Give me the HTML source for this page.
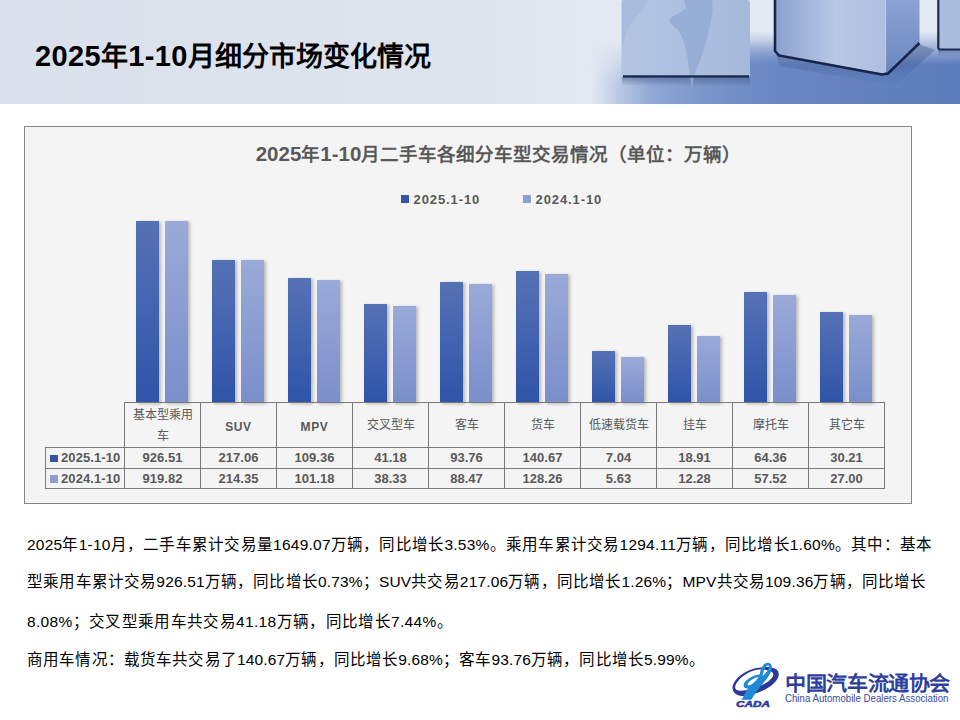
<!DOCTYPE html>
<html lang="zh-CN"><head><meta charset="utf-8">
<style>
*{margin:0;padding:0;box-sizing:border-box}
html,body{width:960px;height:720px;overflow:hidden;background:#fff;font-family:"Liberation Sans",sans-serif}
#hdr{position:absolute;left:0;top:0;width:960px;height:104px;overflow:hidden;
 background:linear-gradient(90deg,#dbe2ec 0px,#dfe5ee 400px,#e6ebf2 520px,#d6dfec 620px,#b9c9e2 960px)}
#htitle{position:absolute;left:35px;top:37.5px;font-size:27px;font-weight:bold;color:#000;white-space:nowrap;line-height:36px}
#chart{position:absolute;left:24px;top:126px;width:888px;height:378px;background:#f4f4f4;border:1px solid #858585}
#ctitle .n{font-size:20.5px;letter-spacing:0px}
#htitle .n{font-size:29px;letter-spacing:0.4px}
#ctitle{position:absolute;left:6px;top:140px;width:985px;text-align:center;font-size:18.5px;font-weight:bold;color:#595959;white-space:nowrap;line-height:28px}
.leg{position:absolute;top:191px;font-size:13px;font-weight:bold;color:#595959;line-height:18px;white-space:nowrap;letter-spacing:0.9px}
.leg .sq{vertical-align:1.5px}
td .sq{margin-right:3.5px}
.sq{display:inline-block;width:7.5px;height:7.5px;margin-right:5px;vertical-align:0px}
.bar{position:absolute;width:23px;box-shadow:2px 1px 3px rgba(0,0,0,0.25)}
.bar.d{background:linear-gradient(180deg,#5672b6,#2e54a8)}
.bar.l{background:linear-gradient(180deg,#9aaad9,#7a8eca)}
table{position:absolute;left:45px;top:402px;border-collapse:collapse;table-layout:fixed}
td{border:1px solid #7a7a7a;text-align:center;color:#595959;font-size:13px;font-weight:bold;width:76px;line-height:18px;padding:0}
td.h{height:45px;font-size:12px;font-weight:500;line-height:21px;padding-top:1.5px}
td.hb{font-weight:bold}
.lat{position:relative;top:2px;font-weight:bold;letter-spacing:0.6px}
td.e{border:none;width:79px}
td.lab{width:79px;text-align:left;padding-left:4px;letter-spacing:0.1px}
.tl{position:absolute;left:27px;font-size:15.5px;color:#000;line-height:30px;white-space:nowrap}
</style></head><body>
<div id="hdr">
<svg width="960" height="104" style="position:absolute;left:0;top:0">
<defs>
<linearGradient id="bgx" x1="0" y1="0" x2="960" y2="0" gradientUnits="userSpaceOnUse">
<stop offset="0" stop-color="#dae1ec"/><stop offset="0.45" stop-color="#dde4ee"/><stop offset="0.6" stop-color="#e3e9f2"/><stop offset="0.8" stop-color="#e3eaf4"/><stop offset="1" stop-color="#e3eaf4"/></linearGradient>
<linearGradient id="floor" x1="520" y1="0" x2="960" y2="0" gradientUnits="userSpaceOnUse">
<stop offset="0.16" stop-color="#c5d3e8" stop-opacity="0"/><stop offset="0.216" stop-color="#bfcee7"/><stop offset="0.295" stop-color="#91a9d4"/><stop offset="0.41" stop-color="#7b96ca"/><stop offset="0.59" stop-color="#6886c2"/><stop offset="1" stop-color="#5c7cbb"/></linearGradient>
<linearGradient id="fm" x1="0" y1="0" x2="0" y2="104" gradientUnits="userSpaceOnUse">
<stop offset="0.4" stop-color="#fff" stop-opacity="0"/><stop offset="0.8" stop-color="#fff" stop-opacity="1"/></linearGradient>
<mask id="fmask"><rect x="0" y="0" width="960" height="104" fill="url(#fm)"/></mask>
<linearGradient id="fm2" x1="0" y1="0" x2="0" y2="104" gradientUnits="userSpaceOnUse">
<stop offset="0.3" stop-color="#fff" stop-opacity="0"/><stop offset="0.62" stop-color="#fff" stop-opacity="1"/></linearGradient>
<mask id="fmask2"><rect x="0" y="0" width="960" height="104" fill="url(#fm2)"/></mask>
<linearGradient id="c1" x1="621" y1="0" x2="750" y2="0" gradientUnits="userSpaceOnUse">
<stop offset="0" stop-color="#b4c5e3"/><stop offset="0.3" stop-color="#b0c2e1"/><stop offset="1" stop-color="#a6b9db"/></linearGradient>
<linearGradient id="c2" x1="774" y1="0" x2="885" y2="0" gradientUnits="userSpaceOnUse">
<stop offset="0" stop-color="#8aa1cf"/><stop offset="0.55" stop-color="#b8c8e5"/><stop offset="1" stop-color="#aebfe0"/></linearGradient>
<linearGradient id="c2r" x1="0" y1="0" x2="0" y2="74" gradientUnits="userSpaceOnUse">
<stop offset="0" stop-color="#8ba3d3"/><stop offset="1" stop-color="#6a87c2"/></linearGradient>
<linearGradient id="sh" x1="0" y1="0" x2="0" y2="1">
<stop offset="0" stop-color="#24386a" stop-opacity="0.5"/><stop offset="1" stop-color="#24386a" stop-opacity="0"/></linearGradient>
</defs>
<rect x="0" y="0" width="960" height="104" fill="url(#bgx)"/>
<rect x="520" y="0" width="260" height="104" fill="url(#floor)" mask="url(#fmask)"/>
<rect x="750" y="0" width="210" height="104" fill="url(#floor)" mask="url(#fmask2)"/>
<rect x="622" y="76" width="128" height="10" fill="url(#sh)"/>
<polygon points="776,55 885,75 919,44 935,50 895,86 780,66" fill="url(#sh)" opacity="0.7"/>
<rect x="938" y="49" width="22" height="8" fill="url(#sh)" opacity="0.7"/>
<rect x="621.5" y="0" width="128.5" height="77.5" rx="2.5" fill="url(#c1)"/>
<path d="M622,0 L648,0 C646,8 638,14 633,20 C628,28 625,34 623,46 L622,46 Z" fill="#a2b6da" opacity="0.6"/>
<path d="M684,0 L712,0 C714,10 711,20 709,30 C706,45 700,62 694,76 C693,82 693,86 692,90 C690,80 689,70 688,60 C686,48 683,36 678,30 C672,26 668,22 670,18 C676,14 684,12 686,6 Z" fill="#93aad5" opacity="0.85"/>
<path d="M623,76.5 L749,76.5" stroke="#1c2b52" stroke-width="2.5"/>
<polygon points="774,0 885,0 885,74 774,54" fill="url(#c2)"/>
<polygon points="885,0 919.5,0 919.5,42 885,74" fill="url(#c2r)"/>
<line x1="885.5" y1="0" x2="885.5" y2="72" stroke="#c9d5ea" stroke-width="1.2" opacity="0.8"/>
<polyline points="775,0 775,51 779,55.5 882,74.5 888,73.5 919.5,43" fill="none" stroke="#17254c" stroke-width="2.6" stroke-linejoin="round"/>
<rect x="937.5" y="0" width="23" height="50" rx="2" fill="#abbddd"/>
<path d="M938.3,0 L938.3,47.5 Q938.3,49.5 941,49.5 L960,49.5" fill="none" stroke="#1c2b52" stroke-width="2.2"/>
</svg>
<div id="htitle"><span class="n">2025</span>年<span class="n">1-10</span>月细分市场变化情况</div>
</div>
<div id="chart"></div>
<div id="ctitle"><span class="n">2025</span>年<span class="n">1-10</span>月二手车各细分车型交易情况（单位：万辆）</div>
<div class="leg" style="left:401px"><span class="sq" style="background:#3556a8"></span>2025.1-10</div>
<div class="leg" style="left:523px"><span class="sq" style="background:#8c9ed2"></span>2024.1-10</div>
<div class="bar d" style="left:136.1px;top:220.8px;height:182.2px"></div>
<div class="bar l" style="left:165.0px;top:221.0px;height:182.0px"></div>
<div class="bar d" style="left:212.1px;top:259.5px;height:143.5px"></div>
<div class="bar l" style="left:241.0px;top:259.9px;height:143.1px"></div>
<div class="bar d" style="left:288.1px;top:277.8px;height:125.2px"></div>
<div class="bar l" style="left:317.0px;top:279.9px;height:123.1px"></div>
<div class="bar d" style="left:364.1px;top:303.9px;height:99.1px"></div>
<div class="bar l" style="left:393.0px;top:305.8px;height:97.2px"></div>
<div class="bar d" style="left:440.1px;top:281.9px;height:121.1px"></div>
<div class="bar l" style="left:469.0px;top:283.5px;height:119.5px"></div>
<div class="bar d" style="left:516.1px;top:271.1px;height:131.9px"></div>
<div class="bar l" style="left:545.0px;top:273.6px;height:129.4px"></div>
<div class="bar d" style="left:592.1px;top:351.0px;height:52.0px"></div>
<div class="bar l" style="left:621.0px;top:356.9px;height:46.1px"></div>
<div class="bar d" style="left:668.1px;top:324.6px;height:78.4px"></div>
<div class="bar l" style="left:697.0px;top:336.1px;height:66.9px"></div>
<div class="bar d" style="left:744.1px;top:292.0px;height:111.0px"></div>
<div class="bar l" style="left:773.0px;top:294.9px;height:108.1px"></div>
<div class="bar d" style="left:820.1px;top:312.1px;height:90.9px"></div>
<div class="bar l" style="left:849.0px;top:315.1px;height:87.9px"></div>
<table>
<tr style="height:45px"><td class="e"></td><td class="h">基本型乘用<br>车</td><td class="h"><span class="lat">SUV</span></td><td class="h"><span class="lat">MPV</span></td><td class="h">交叉型车</td><td class="h">客车</td><td class="h">货车</td><td class="h">低速载货车</td><td class="h">挂车</td><td class="h">摩托车</td><td class="h">其它车</td></tr>
<tr style="height:21px"><td class="lab"><span class="sq" style="background:#3556a8"></span>2025.1-10</td><td>926.51</td><td>217.06</td><td>109.36</td><td>41.18</td><td>93.76</td><td>140.67</td><td>7.04</td><td>18.91</td><td>64.36</td><td>30.21</td></tr>
<tr style="height:20px"><td class="lab"><span class="sq" style="background:#8c9ed2"></span>2024.1-10</td><td>919.82</td><td>214.35</td><td>101.18</td><td>38.33</td><td>88.47</td><td>128.26</td><td>5.63</td><td>12.28</td><td>57.52</td><td>27.00</td></tr>
</table>
<div class="tl" style="top:530px;letter-spacing:0.24px">2025年1-10月，二手车累计交易量1649.07万辆，同比增长3.53%。乘用车累计交易1294.11万辆，同比增长1.60%。其中：基本</div>
<div class="tl" style="top:567px;letter-spacing:0.17px">型乘用车累计交易926.51万辆，同比增长0.73%；SUV共交易217.06万辆，同比增长1.26%；MPV共交易109.36万辆，同比增长</div>
<div class="tl" style="top:606.5px;letter-spacing:0.34px">8.08%；交叉型乘用车共交易41.18万辆，同比增长7.44%。</div>
<div class="tl" style="top:644.5px;letter-spacing:0.15px">商用车情况：载货车共交易了140.67万辆，同比增长9.68%；客车93.76万辆，同比增长5.99%。</div>
<svg width="235" height="60" style="position:absolute;left:725px;top:655px" viewBox="0 0 235 60">
<path fill="#2b3a9c" fill-rule="evenodd" d="M7.6,34 C6.5,27 17,15.5 33,12.8 C45,11 53.5,12.5 53.8,19 C54,27 40,37.5 22,40.8 C14,42.2 8.2,38.8 7.6,34 Z M10.2,32.8 C10.5,36 15.5,36.2 22.5,35 C35,32.5 47.5,25.5 48.3,20 C48.8,16 42,14.2 34.2,14.4 C22,15.5 10,26 10.2,32.8 Z"/>
<path fill="#1f8ad3" fill-rule="evenodd" d="M16.7,44.8 L20,38.5 C21.5,36 22.5,34.5 23,33.5 C19.5,33.5 17.5,31.5 19,28.5 C21,24.5 27,20.5 34.5,19.5 C35.5,15 37,10.5 40,8.5 C42.5,7.2 45.8,7.6 46.6,10.5 C47.5,14 45.5,19 42,23.5 C38.5,28 33,34 30.5,38 L26.2,44.8 Z M22.5,29.5 C23,31.5 27,30 31,25.5 C32.5,23.8 33,22.8 33.5,22 C29,23 23.5,26 22.5,29.5 Z M37.5,21 C39,20 42.5,16.5 43.8,13 C44.5,11 43.5,10 42,10.8 C40,12 38.5,16 37.5,21 Z"/>
<text x="11" y="51.8" font-family="Liberation Sans" font-weight="bold" font-style="italic" font-size="8.6" fill="#2b3a9c" stroke="#2b3a9c" stroke-width="0.5" textLength="34" lengthAdjust="spacingAndGlyphs">CADA</text>
<text x="60.3" y="35.6" style="font-family:'Liberation Serif',serif;font-weight:bold" font-size="20.5" fill="#2f3f9e" textLength="164.5" lengthAdjust="spacingAndGlyphs">中国汽车流通协会</text>
<text x="60" y="46.8" font-family="Liberation Sans" font-size="10.6" fill="#3a4aa3" textLength="163.5" lengthAdjust="spacingAndGlyphs">China Automobile Dealers Association</text>
</svg>
</body></html>
